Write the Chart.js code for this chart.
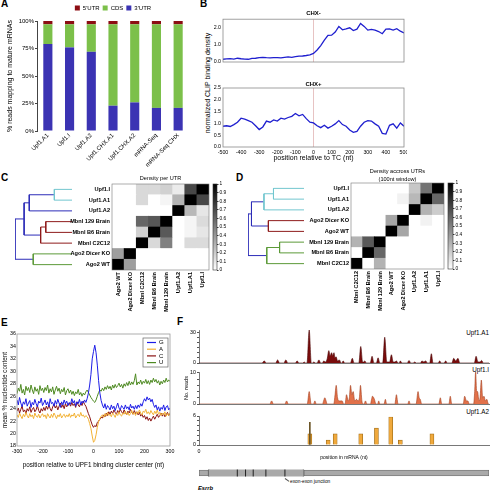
<!DOCTYPE html>
<html>
<head>
<meta charset="utf-8">
<script src="https://cdn.jsdelivr.net/npm/chart.js@4.4.1/dist/chart.umd.min.js"></script>
<style>
  body { margin: 0; width: 499px; height: 498px; position: relative; overflow: hidden; background: #fff;
         font-family: "Liberation Sans", Arial, sans-serif; }
  canvas { position: absolute; }
  .txt { position: absolute; white-space: nowrap; color: #000; line-height: 1; }
  .letter { font-size: 10px; font-weight: bold; line-height: 10px; }
</style>
</head>
<body>
<div class="txt letter" style="left:1px;top:-1px">A</div>
<div class="txt letter" style="left:200px;top:-1px">B</div>
<div class="txt letter" style="left:1px;top:173px">C</div>
<div class="txt letter" style="left:236px;top:173px">D</div>
<div class="txt letter" style="left:1px;top:318px">E</div>
<div class="txt letter" style="left:177px;top:317px">F</div>
<div class="txt" style="left:207px;top:83px;font-size:7px;transform:translate(-50%,-50%) rotate(-90deg)">normalized CLIP binding density</div>
<div class="txt" style="right:10px;top:330px;font-size:6.3px">Upf1.A1</div>
<div class="txt" style="right:10px;top:367px;font-size:6.3px">Upf1.I</div>
<div class="txt" style="right:10px;top:409px;font-size:6.3px">Upf1.A2</div>
<div class="txt" style="left:198px;top:486px;font-size:5.8px;font-weight:bold;font-style:italic">Esrrb</div>
<div class="txt" style="left:290px;top:480px;font-size:4.8px">exon-exon junction</div>
<div style="position:absolute;left:285px;top:478px;width:5px;border-top:0.7px solid #555;transform:rotate(35deg);transform-origin:left"></div>
<script>
// ---- A: read distribution
const samples = ['Upf1.A1', 'Upf1.I', 'Upf1.A2', 'Upf1.CHX.A1', 'Upf1.CHX.A2', 'mRNA-Seq', 'mRNA-Seq CHX'];
const utr3 = [79, 76, 72, 23, 26, 21, 21];
const cds = [18, 21, 25, 74, 71, 76, 76];
const utr5 = [3, 3, 3, 3, 3, 3, 3];

// ---- B: CLIP density around TC
const tcPos = Array.from({length: 51}, (_, i) => -500 + i * 20);
const tcMark = 0;
const chxMinus = [0.16, 0.18, 0.20, 0.17, 0.22, 0.19, 0.17, 0.16, 0.21, 0.22,
  0.25, 0.27, 0.25, 0.24, 0.25, 0.26, 0.24, 0.27, 0.30, 0.27,
  0.31, 0.34, 0.35, 0.38, 0.42, 0.50, 0.70, 0.96, 1.28, 1.55,
  1.57, 1.75, 2.08, 1.88, 1.93, 2.00, 1.84, 1.92, 2.25, 2.08,
  1.86, 1.90, 1.86, 1.78, 1.65, 1.92, 1.93, 1.86, 1.95, 1.80, 1.70];
const chxPlus = [0.88, 0.90, 0.87, 0.95, 1.05, 1.22, 1.18, 1.12, 1.05, 0.90,
  0.74, 0.85, 1.10, 1.05, 1.15, 1.10, 1.22, 1.18, 1.25, 1.30,
  1.42, 1.32, 1.38, 1.20, 1.05, 1.02, 0.90, 0.82, 0.92, 0.80,
  0.88, 0.98, 1.12, 0.95, 0.88, 0.72, 0.62, 0.66, 0.88, 1.05,
  1.12, 1.10, 0.98, 0.88, 0.58, 0.55, 0.92, 0.98, 0.80, 1.02, 0.88];

// ---- C / D: similarity heatmaps
const rowsC = ['Upf1.I', 'Upf1.A1', 'Upf1.A2', 'Mbnl 129 Brain', 'Mbnl B6 Brain', 'Mbnl C2C12', 'Ago2 Dicer KO', 'Ago2 WT'];
const colsC = ['Ago2 WT', 'Ago2 Dicer KO', 'Mbnl C2C12', 'Mbnl B6 Brain', 'Mbnl 129 Brain', 'Upf1.A2', 'Upf1.A1', 'Upf1.I'];
const densityC = [
  [0, 0, 0.15, 0.15, 0.18, 0.08, 0.72, 1],
  [0, 0, 0.15, 0, 0.04, 0.30, 1, 0.72],
  [0, 0, 0, 0, 0, 1, 0.28, 0.10],
  [0, 0, 0.60, 0.66, 1, 0, 0.04, 0.14],
  [0, 0, 0.18, 1, 0.65, 0, 0.04, 0.10],
  [0, 0, 1, 0.15, 0.50, 0, 0.14, 0.14],
  [0.38, 1, 0, 0, 0, 0, 0, 0],
  [1, 0.38, 0, 0, 0, 0, 0, 0]];
// merges: [child, child, height]; leaves 0..7, merge k becomes node 8+k
const linkC = [[0, 1, 0.31], [8, 2, 0.75], [3, 4, 0.46], [10, 5, 0.55], [9, 11, 0.84], [6, 7, 0.68], [12, 13, 1.0]];

const rowsD = ['Upf1.I', 'Upf1.A1', 'Upf1.A2', 'Ago2 Dicer KO', 'Ago2 WT', 'Mbnl 129 Brain', 'Mbnl B6 Brain', 'Mbnl C2C12'];
const colsD = ['Mbnl C2C12', 'Mbnl B6 Brain', 'Mbnl 129 Brain', 'Ago2 WT', 'Ago2 Dicer KO', 'Upf1.A2', 'Upf1.A1', 'Upf1.I'];
const densityD = [
  [0, 0, 0, 0, 0, 0.22, 0.55, 1],
  [0, 0, 0, 0, 0.05, 0.28, 1, 0.60],
  [0, 0, 0, 0, 0, 1, 0.30, 0.20],
  [0, 0, 0, 0.35, 1, 0, 0.05, 0],
  [0, 0, 0, 1, 0.35, 0, 0, 0],
  [0.30, 0.65, 1, 0, 0, 0, 0, 0],
  [0, 1, 0.60, 0, 0, 0, 0, 0],
  [1, 0, 0.30, 0, 0, 0, 0, 0]];
const linkD = [[0, 1, 0.545], [8, 2, 0.715], [3, 4, 0.636], [9, 10, 0.938], [5, 6, 0.436], [12, 7, 0.665], [11, 13, 1.0]];

// ---- E: nucleotide content
const posE = Array.from({length: 121}, (_, i) => -300 + i * 5);
const nucG = [25.4, 24.6, 25.8, 24.9, 24.3, 25.1, 24.7, 25.6, 24.4, 24.9, 25.3, 24.2, 25.0, 24.6, 25.5, 24.8, 24.3, 25.2, 24.9, 25.7, 24.5,
  24.9, 25.4, 24.6, 25.1, 24.3, 25.6, 24.8, 25.0, 24.4, 25.3, 24.7, 25.5, 24.9, 24.2, 25.1, 24.6, 25.4, 24.8, 25.2, 24.5,
  25.0, 24.7, 25.6, 24.9, 25.3, 24.4, 25.1, 24.8, 25.5, 24.6, 25.2, 24.9, 25.4, 25.0,
  25.6, 26.5, 27.8, 29.5, 32.0, 33.2, 34.2, 33.0, 31.0, 28.5, 26.5, 25.3,
  24.6, 24.1, 24.8, 23.9, 24.5, 24.2, 23.8, 24.6, 24.0, 24.4, 23.7, 24.3, 24.9, 24.1, 23.8, 24.5, 24.2, 23.9, 24.6, 24.0,
  24.3, 23.8, 24.7, 24.1, 24.4, 23.9, 24.5, 24.0, 24.6, 24.2, 24.8, 24.4, 25.1, 25.6, 25.2, 25.9, 25.4, 25.7, 25.1, 25.5,
  24.7, 24.2, 24.6, 23.8, 24.3, 23.6, 24.2, 23.9, 24.6, 23.7, 24.3, 24.5, 23.8, 24.1];
const nucA = [23.0, 22.6, 23.3, 22.8, 22.4, 23.1, 22.7, 23.4, 22.9, 22.5, 23.2, 22.7, 23.0, 22.4, 23.3, 22.8, 22.6, 23.1, 22.5, 22.9, 23.2,
  22.7, 23.0, 22.4, 23.2, 22.8, 22.5, 23.1, 22.6, 23.3, 22.9, 22.4, 23.0, 22.7, 23.2, 22.5, 22.9, 23.1, 22.6, 23.0, 22.7,
  23.2, 22.6, 23.0, 22.8, 23.3, 22.5, 22.9, 23.1, 22.7, 23.4, 22.8, 23.0, 22.6, 22.9,
  22.7, 22.3, 21.6, 20.8, 19.6, 18.6, 18.9, 19.8, 21.0, 21.9, 22.4, 22.8,
  23.0, 22.6, 23.2, 22.8, 23.4, 22.9, 23.1, 22.7, 23.3, 23.0, 22.6, 23.2, 22.9, 23.5, 23.0, 22.8, 23.3, 23.1, 23.6, 23.0,
  23.4, 22.9, 23.2, 23.7, 23.1, 23.4, 22.9, 23.5, 23.2, 23.8, 23.3, 23.0, 23.6, 23.4, 23.9, 23.2, 23.5, 23.1, 23.7, 23.3,
  23.0, 23.6, 23.2, 23.8, 23.1, 23.4, 22.9, 23.3, 23.0, 23.5, 22.8, 23.2, 22.9, 23.4];
const nucC = [23.6, 24.1, 23.3, 23.9, 24.4, 23.5, 23.8, 23.2, 24.0, 23.6, 24.3, 23.4, 23.9, 24.2, 23.5, 23.8, 24.5, 23.7, 23.3, 24.0, 23.6,
  24.2, 23.7, 24.4, 23.9, 24.6, 24.0, 23.6, 24.3, 24.7, 24.1, 24.5, 23.8, 24.4, 24.9, 24.2, 24.6, 24.0, 24.8, 24.3, 24.6,
  24.9, 24.4, 25.0, 24.5, 24.8, 24.2, 25.1, 24.6, 24.3, 24.9, 24.5, 25.2, 24.7, 24.4,
  23.8, 23.2, 22.7, 22.0, 21.4, 21.0, 21.3, 21.1, 21.8, 22.0, 22.3, 22.6,
  22.5, 23.0, 22.7, 23.3, 22.9, 23.5, 23.1, 23.6, 23.2, 23.8, 23.4, 23.1, 23.7, 23.3, 23.9, 23.5, 23.2, 23.8, 23.4, 23.0,
  23.6, 23.3, 23.9, 23.4, 23.1, 23.7, 23.2, 23.5, 23.0, 23.4, 22.8, 23.1, 22.6, 22.9, 22.3, 22.7, 22.1, 22.5, 22.0, 22.4,
  22.8, 22.3, 22.7, 23.1, 22.6, 22.9, 23.3, 22.8, 23.2, 22.7, 23.0, 23.4, 22.9, 23.2];
const nucU = [26.4, 27.3, 26.8, 27.9, 26.5, 27.1, 26.2, 27.6, 26.9, 27.4, 26.6, 27.8, 27.0, 26.4, 27.5, 26.8, 27.2, 26.3, 27.7, 26.9, 27.3,
  26.6, 27.4, 26.9, 27.8, 26.5, 27.2, 26.7, 27.5, 26.3, 27.0, 27.6, 26.8, 27.3, 26.4, 27.1, 26.7, 27.4, 26.2, 26.9, 27.2,
  26.5, 27.0, 26.3, 26.8, 26.1, 26.7, 26.4, 27.1, 26.2, 26.6, 26.0, 26.5, 26.2, 26.7,
  27.0, 26.6, 26.2, 25.8, 25.5, 25.2, 25.0, 25.4, 26.0, 26.6, 27.0, 26.8,
  27.3, 26.9, 27.5, 27.1, 27.7, 27.2, 27.6, 27.0, 27.8, 27.3, 27.9, 27.4, 27.7, 28.1, 27.5, 27.9, 27.3, 28.0, 27.6, 28.2,
  27.7, 28.4, 27.8, 28.3, 27.9, 28.5, 29.6, 27.8, 28.3, 28.0, 28.6, 27.9, 28.4, 28.1, 28.7, 28.0, 28.5, 27.9, 28.6, 28.2,
  28.9, 28.3, 28.7, 28.1, 28.5, 27.8, 28.4, 28.0, 28.6, 28.2, 28.9, 28.3, 28.6, 28.4];

// ---- F: read coverage along Esrrb mRNA
const a1Pos = [0, 880, 911, 940, 1070, 1098, 1125, 1185, 1213, 1240, 1345, 1371, 1395, 1450, 1469, 1488, 1508, 1539, 1568, 1585,
  1604, 1625, 1650, 1674, 1700, 1722, 1743, 1765, 1790, 1813, 1832, 1852, 1868, 1885, 1900, 1915, 1935, 1960, 1985, 1995,
  2013, 2035, 2115, 2141, 2165, 2232, 2259, 2285, 2300, 2315, 2338, 2392, 2417, 2443, 2478, 2501, 2525, 2566, 2594, 2622,
  2640, 2662, 2687, 2712, 2735, 2757, 2780, 2795, 2812, 2835, 2908, 2933, 2958, 2992, 3013, 3035, 3092, 3114, 3140, 3166,
  3190, 3222, 3245, 3268, 3340, 3361, 3384, 3422, 3445, 3468, 3532, 3557, 3585, 3617, 3642, 3845, 3870, 3895, 3925, 3947, 3972, 4050];
const a1Reads = [0, 0, 2, 0, 0, 3, 0, 0, 3, 0, 0, 2, 0, 0, 1, 0, 0, 32, 0, 0,
  1, 0, 0, 3, 0, 0, 2, 1, 4, 12, 7, 10, 7, 10, 5, 6, 2, 3, 0, 0,
  2, 0, 0, 4.5, 0, 0, 16, 1, 1, 2, 0, 0, 6.5, 0, 0, 5, 0, 0, 25, 1,
  1, 1, 8, 1, 1, 2, 0, 0, 2, 0, 0, 2.5, 0, 0, 1, 0, 0, 2, 1, 2,
  0, 0, 9, 0, 0, 2, 0, 0, 2, 0, 0, 4.5, 2, 4.5, 0, 0, 6.5, 1, 1, 2.5, 0, 0];
const iPos = [0, 990, 1014, 1040, 1200, 1223, 1248, 1512, 1539, 1566, 1600, 1618, 1638, 1725, 1740, 1757, 1775, 1790, 1882, 1900,
  1916, 1935, 1957, 1980, 2000, 2020, 2040, 2060, 2085, 2100, 2116, 2135, 2153, 2175, 2200, 2220, 2240, 2255, 2275, 2290,
  2305, 2325, 2345, 2395, 2410, 2422, 2450, 2470, 2495, 2510, 2525, 2585, 2603, 2620, 2735, 2757, 2780, 2915, 2933, 2950,
  3032, 3059, 3075, 3090, 3110, 3350, 3370, 3390, 3490, 3509, 3530, 3690, 3710, 3735, 3755, 3775, 3835, 3850, 3863, 3878,
  3890, 3910, 3925, 3943, 3962, 3980, 4000, 4020, 4040, 4050];
const iReads = [0, 0, 1, 0, 0, 1, 0, 0, 4, 0, 0, 1, 0, 0, 1, 2, 1, 0, 0, 3,
  6, 2, 1, 1, 1, 0, 0, 3, 1, 2, 6, 3, 4, 1, 1.5, 1, 2, 6, 1, 0,
  0, 1, 0, 0, 1.5, 2.5, 1.5, 0, 0, 1, 0, 0, 1.5, 0, 0, 3, 0, 0, 1, 0,
  0, 4, 2, 1.5, 0, 0, 2, 0, 0, 2.5, 0, 0, 2.5, 1, 1, 0, 0, 4, 10.3, 4,
  4, 1, 2, 7.7, 2, 2.5, 1, 1.5, 0, 0];
const a2Pos = [1548, 1804, 1902, 2259, 2478, 2678, 2812, 3253];
const a2Reads = [2.3, 1, 2.3, 2.3, 3.5, 5.8, 1, 2.3];
const a2SpikePos = [1548];
const a2SpikeReads = [4.7];
const yTicksA1 = [0, 5, 10, 15, 20, 25, 30];
const yTicksI = [0, 2, 4, 6, 8, 10];
const yTicksA2 = [0, 1, 2, 3, 4, 5, 6];
const esrrbUtr5 = [0, 130];
const esrrbCds = [130, 1465];
const esrrbUtr3 = [1465, 4050];
const exonJunctions = [535, 650, 757, 934, 1200];

Chart.defaults.font.family = '"Liberation Sans", Arial, Helvetica, sans-serif';
Chart.defaults.color = '#000';
Chart.defaults.animation = false;
Chart.defaults.responsive = false;
Chart.defaults.events = [];
Chart.defaults.plugins.legend.display = false;
Chart.defaults.plugins.tooltip.enabled = false;
Chart.defaults.elements.point.radius = 0;

function mk(left, top, w, h) {
  const c = document.createElement('canvas');
  c.width = w; c.height = h;
  c.style.left = left + 'px'; c.style.top = top + 'px';
  c.style.width = w + 'px'; c.style.height = h + 'px';
  document.body.appendChild(c);
  return c.getContext('2d');
}
const fixW = w => s => { s.width = w; s.paddingTop = 0; s.paddingBottom = 0; };
const fixH = h => s => { s.height = h; s.paddingLeft = 0; s.paddingRight = 0; };
const xy = (xs, ys) => xs.map((x, i) => ({x: x, y: ys[i]}));
const grayOf = v => { const g = Math.round(255 * (1 - v)); return 'rgb(' + g + ',' + g + ',' + g + ')'; };

const frame = {
  id: 'frame',
  afterDatasetsDraw(chart, args, opts) {
    const a = chart.chartArea, c = chart.ctx;
    c.save();
    c.strokeStyle = opts.color || '#999';
    c.lineWidth = opts.width || 0.8;
    c.strokeRect(a.left, a.top, a.right - a.left, a.bottom - a.top);
    c.restore();
  }
};

// A
new Chart(mk(0, 0, 200, 176), {
  type: 'bar',
  data: {
    labels: samples,
    datasets: [
      {label: "3'UTR", data: utr3, backgroundColor: '#3b33b3'},
      {label: 'CDS', data: cds, backgroundColor: '#7cc04a'},
      {label: "5'UTR", data: utr5, backgroundColor: '#8c0d13'}
    ]
  },
  options: {
    layout: {padding: {top: 2, right: 11}},
    datasets: {bar: {barPercentage: 0.42, categoryPercentage: 1}},
    plugins: {legend: {display: true, fullSize: false, reverse: true,
      labels: {boxWidth: 5, boxHeight: 5, padding: 3, font: {size: 6}}}},
    scales: {
      x: {stacked: true, grid: {display: false, drawTicks: false}, border: {display: false},
        ticks: {minRotation: 45, maxRotation: 45, autoSkip: false, font: {size: 6}, padding: 1},
        afterFit: fixH(45)},
      y: {stacked: true, min: 0, max: 100,
        ticks: {stepSize: 25, callback: v => v + '%', font: {size: 6}, padding: 1},
        grid: {drawOnChartArea: false, tickLength: 2, color: '#444'}, border: {color: '#444'},
        title: {display: true, text: '% reads mapping to mature mRNAs', font: {size: 7}, padding: {top: 5.8, bottom: 0}},
        afterFit: fixW(37)}
    }
  }
});

// B
function clipChart(ctx, values, title, showX) {
  return new Chart(ctx, {
    type: 'line',
    data: {datasets: [
      {data: xy(tcPos, values), borderColor: '#1f1fcf', borderWidth: 1.3},
      {data: [{x: tcMark, y: 0}, {x: tcMark, y: 2.5}], borderColor: '#e7c3c3', borderWidth: 1}
    ]},
    options: {
      layout: {padding: {right: 3, bottom: showX ? 0 : 1}},
      plugins: {
        title: {display: true, text: title, fullSize: false, font: {size: 6, weight: 'bold'},
          padding: showX ? {top: 0.5, bottom: 0.3} : {top: 2, bottom: 2}},
        frame: {color: '#8a8a8a'}
      },
      scales: {
        x: {type: 'linear', min: -500, max: 500, display: showX,
          ticks: {stepSize: 100, font: {size: 5.3}, padding: 2, maxRotation: 0},
          grid: {display: false, drawTicks: false}, border: {display: false},
          title: {display: true, text: 'position relative to TC (nt)', font: {size: 7}, padding: {top: 3, bottom: 3}},
          afterFit: fixH(18)},
        y: {min: 0, max: 2.5,
          ticks: {stepSize: 0.5, callback: v => v.toFixed(1), font: {size: 5.3}, padding: 2},
          grid: {display: false, drawTicks: false}, border: {display: false},
          afterFit: fixW(24)}
      }
    },
    plugins: [frame]
  });
}
clipChart(mk(199, 8, 208, 73), chxMinus, 'CHX-', false);
clipChart(mk(199, 80, 208, 85), chxPlus, 'CHX+', true);

// C / D
function heatmapChart(ctx, rows, cols, values, title, yW, xH, titleFont, titlePad) {
  const n = rows.length;
  return new Chart(ctx, {
    type: 'bar',
    data: {
      labels: cols,
      datasets: rows.map((_, k) => ({
        data: cols.map(() => 1),
        backgroundColor: values[n - 1 - k].map(grayOf),
        borderWidth: 0
      }))
    },
    options: {
      layout: {padding: {right: 1}},
      datasets: {bar: {barPercentage: 1, categoryPercentage: 1}},
      plugins: {
        title: {display: true, text: title, fullSize: false, font: titleFont, padding: titlePad},
        frame: {color: '#777', width: 0.6}
      },
      scales: {
        x: {stacked: true, grid: {display: false, drawTicks: false}, border: {display: false},
          ticks: {minRotation: 90, maxRotation: 90, autoSkip: false, font: {size: 5.6, weight: 'bold'}, padding: 2},
          afterFit: fixH(xH)},
        y: {stacked: true, min: 0, max: n,
          afterBuildTicks: s => { s.ticks = rows.map((_, k) => ({value: k + 0.5})); },
          ticks: {autoSkip: false, callback: v => rows[n - 1 - Math.floor(v)], font: {size: 5.6, weight: 'bold'}, padding: 2},
          grid: {display: false, drawTicks: false}, border: {display: false},
          afterFit: fixW(yW)}
      }
    },
    plugins: [frame]
  });
}
function colorbarChart(ctx) {
  return new Chart(ctx, {
    type: 'bar',
    data: {labels: [''], datasets: [{
      data: [1], borderWidth: 0,
      backgroundColor: c => {
        const a = c.chart.chartArea;
        if (!a) return '#888';
        const g = c.chart.ctx.createLinearGradient(0, a.bottom, 0, a.top);
        g.addColorStop(0, '#ffffff'); g.addColorStop(1, '#000000');
        return g;
      }
    }]},
    options: {
      layout: {padding: {left: 1, top: 4, bottom: 4}},
      datasets: {bar: {barPercentage: 1, categoryPercentage: 1}},
      plugins: {frame: {color: '#333', width: 0.6}},
      scales: {
        x: {display: false},
        y: {position: 'right', min: 0, max: 1,
          ticks: {stepSize: 0.1, autoSkip: false, callback: v => String(+v.toFixed(1)), font: {size: 4.8}, padding: 1},
          grid: {drawOnChartArea: false, tickLength: 1.5, color: '#333'}, border: {display: false},
          afterFit: fixW(20)}
      }
    },
    plugins: [frame]
  });
}
function dendroChart(ctx, link, colors) {
  const pos = [0, 1, 2, 3, 4, 5, 6, 7], hgt = [0, 0, 0, 0, 0, 0, 0, 0];
  const segs = link.map(([a, b, h]) => {
    const s = [{x: hgt[a], y: pos[a]}, {x: h, y: pos[a]}, {x: h, y: pos[b]}, {x: hgt[b], y: pos[b]}];
    pos.push((pos[a] + pos[b]) / 2); hgt.push(h);
    return s;
  });
  return new Chart(ctx, {
    type: 'scatter',
    data: {datasets: segs.map((s, i) => ({data: s, showLine: true, borderColor: colors[i], borderWidth: 1, pointRadius: 0}))},
    options: {
      layout: {padding: {left: 1}},
      scales: {
        x: {display: false, min: 0, max: 1, reverse: true},
        y: {display: false, min: -0.5, max: 7.5, reverse: true}
      }
    }
  });
}
const blue = '#2c2cb8', cyan = '#72c6cf', dred = '#8e1b1b', green = '#5c9a38';
dendroChart(mk(14, 184, 58, 86), linkC, [cyan, blue, dred, dred, blue, green, blue]);
heatmapChart(mk(40, 172, 170, 144), rowsC, colsC, densityC, 'Density per UTR', 72, 46,
  {size: 5.6, weight: 'normal'}, {top: 3, bottom: 2.28});
colorbarChart(mk(212, 180, 25, 94));

dendroChart(mk(247, 183, 57, 86), linkD, [cyan, cyan, dred, blue, green, green, blue]);
heatmapChart(mk(290, 167, 155, 147), rowsD, colsD, densityD, ['Density accross UTRs', '(100nt window)'], 61, 45,
  {size: 5.6, weight: 'normal', lineHeight: 1.35}, {top: 0.88, bottom: 0});
colorbarChart(mk(447, 179, 26, 94));

// E
const insideLegend = {
  id: 'insideLegend',
  afterDraw(chart) {
    const c = chart.ctx, a = chart.chartArea;
    const w = 25, h = 29, x0 = a.right - w - 2, y0 = a.top + 4;
    c.save();
    c.fillStyle = '#fff'; c.fillRect(x0, y0, w, h);
    c.strokeStyle = '#666'; c.lineWidth = 0.7; c.strokeRect(x0, y0, w, h);
    c.font = '6px "Liberation Sans", Arial, sans-serif';
    c.textBaseline = 'middle';
    chart.data.datasets.forEach((d, i) => {
      const y = y0 + 4.5 + i * 6.7;
      c.strokeStyle = d.borderColor; c.lineWidth = 1.2;
      c.beginPath(); c.moveTo(x0 + 4, y); c.lineTo(x0 + 13, y); c.stroke();
      c.fillStyle = '#000'; c.fillText(d.label, x0 + 16, y);
    });
    c.restore();
  }
};
new Chart(mk(0, 326, 178, 150), {
  type: 'line',
  data: {datasets: [
    {label: 'G', data: xy(posE, nucG), borderColor: '#1c1ce6', borderWidth: 1},
    {label: 'A', data: xy(posE, nucA), borderColor: '#f2b134', borderWidth: 1},
    {label: 'C', data: xy(posE, nucC), borderColor: '#8a1212', borderWidth: 1},
    {label: 'U', data: xy(posE, nucU), borderColor: '#4e8a22', borderWidth: 1}
  ]},
  options: {
    layout: {padding: {top: 8, right: 8}},
    plugins: {frame: {color: '#999'}},
    scales: {
      x: {type: 'linear', min: -300, max: 300,
        ticks: {stepSize: 100, font: {size: 5.3}, padding: 2, maxRotation: 0},
        grid: {display: false, drawTicks: false}, border: {display: false},
        title: {display: true, text: 'position relative to UPF1 binding cluster center (nt)', font: {size: 6.3}, padding: {top: 7.2, bottom: 7.2}},
        afterFit: fixH(30)},
      y: {min: 18, max: 36,
        ticks: {stepSize: 2, font: {size: 5.3}, padding: 1},
        grid: {display: false, drawTicks: false}, border: {display: false},
        title: {display: true, text: 'mean % nucleotide content', font: {size: 6.3}, padding: {top: 1.2, bottom: 0}},
        afterFit: fixW(17)}
    }
  },
  plugins: [frame, insideLegend]
});

// F
function trackX(showLabels) {
  return {
    type: 'linear', min: 0, max: 4050, offset: false,
    afterBuildTicks: s => { s.ticks = s.ticks.filter(t => t.value % 500 === 0); },
    ticks: {display: showLabels, stepSize: 500, autoSkip: false, maxRotation: 0, font: {size: 5.3}, padding: 3,
      callback: v => v === 4000 ? '4000nt' : v},
    grid: {display: false, drawTicks: false}, border: {color: '#555', width: 0.8},
    title: {display: showLabels, text: 'position in mRNA (nt)', font: {size: 5}, padding: {top: 2, bottom: 2}},
    afterFit: fixH(showLabels ? 18 : 0)
  };
}
function trackY(max, tickVals, title) {
  const top = tickVals[tickVals.length - 1];
  return {
    min: 0, max: max,
    afterBuildTicks: s => { s.ticks = tickVals.map(v => ({value: v})); },
    ticks: {autoSkip: false, callback: v => (v === 0 || v === top) ? v : '', font: {size: 5.3}, padding: 1},
    grid: {drawOnChartArea: false, tickLength: 2, color: '#555'}, border: {color: '#555', width: 0.8},
    title: {display: !!title, text: title, font: {size: 5.5}, padding: {top: 13.4, bottom: 0}},
    afterFit: fixW(29)
  };
}
new Chart(mk(170, 326, 329, 39), {
  type: 'line',
  data: {datasets: [{data: xy(a1Pos, a1Reads), fill: 'origin', backgroundColor: '#7a0c0c', borderColor: '#4a0404',
    borderWidth: 0.6, cubicInterpolationMode: 'monotone'}]},
  options: {layout: {padding: {top: 4, right: 10, bottom: 2}},
    scales: {x: trackX(false), y: trackY(32, yTicksA1, '')}}
});
new Chart(mk(170, 366, 329, 40), {
  type: 'line',
  data: {datasets: [{data: xy(iPos, iReads), fill: 'origin', backgroundColor: '#e2714a', borderColor: '#a4401f',
    borderWidth: 0.6, cubicInterpolationMode: 'monotone'}]},
  options: {layout: {padding: {top: 6, right: 10, bottom: 2}},
    scales: {x: trackX(false), y: trackY(10.3, yTicksI, 'No. reads')}}
});
new Chart(mk(170, 410, 329, 53), {
  type: 'bar',
  data: {datasets: [
    {data: xy(a2SpikePos, a2SpikeReads), backgroundColor: '#6b5426', barThickness: 1},
    {data: xy(a2Pos, a2Reads), backgroundColor: '#f0a93c', borderColor: '#9c6a17', borderWidth: 0.7, barThickness: 4}
  ]},
  options: {layout: {padding: {top: 6, right: 10}},
    datasets: {bar: {grouped: false}},
    scales: {x: trackX(true), y: trackY(6, yTicksA2, '')}}
});
new Chart(mk(170, 462, 329, 22), {
  type: 'bar',
  data: {datasets: [
    {type: 'scatter', data: exonJunctions.map(x => ({x: x, y: 0})), pointStyle: 'line', rotation: 90,
      pointRadius: 6.5, borderColor: '#111', borderWidth: 0.9},
    {data: [{x: esrrbUtr5, y: 0}], barThickness: 6},
    {data: [{x: esrrbCds, y: 0}], barThickness: 13},
    {data: [{x: esrrbUtr3, y: 0}], barThickness: 6}
  ]},
  options: {
    indexAxis: 'y',
    layout: {padding: {left: 29, right: 10}},
    datasets: {bar: {grouped: false, backgroundColor: '#a9a9a9', borderColor: '#666', borderWidth: 0.8, borderSkipped: false}},
    scales: {
      x: {type: 'linear', display: false, min: 0, max: 4050},
      y: {type: 'linear', display: false, min: -1, max: 1, offset: false}
    }
  }
});
</script>
</body>
</html>
